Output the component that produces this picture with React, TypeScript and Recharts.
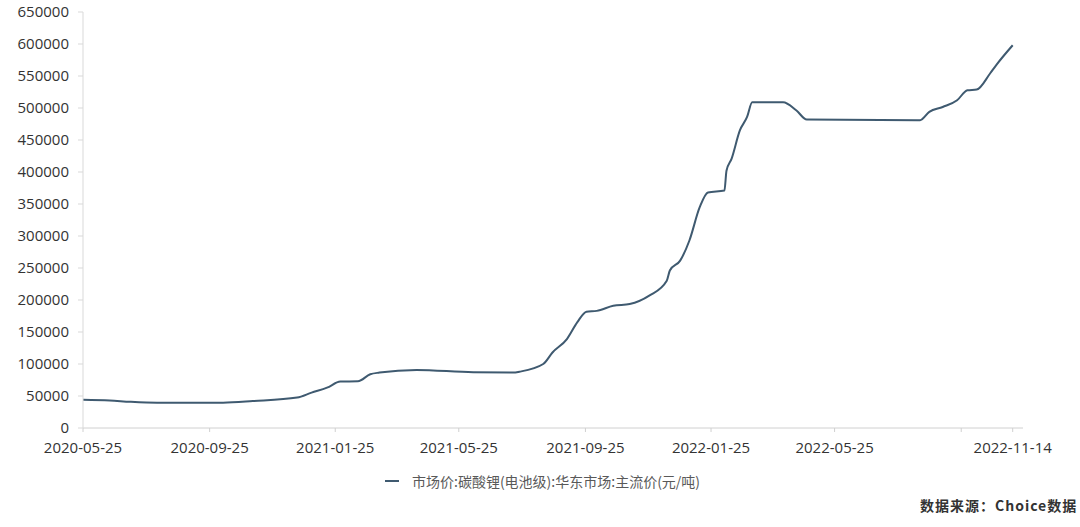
import React from "react";
import { LineChart, Line, XAxis, YAxis } from "recharts";

// 碳酸锂(电池级) 华东市场主流价
const dates = [
  "2020-05-25", "2020-06-20", "2020-07-10", "2020-08-05", "2020-10-08",
  "2020-11-06", "2020-12-19", "2021-01-02", "2021-01-17", "2021-01-30",
  "2021-02-16", "2021-02-28", "2021-03-09", "2021-04-14", "2021-06-08",
  "2021-07-17", "2021-07-23", "2021-08-15", "2021-08-24", "2021-09-07",
  "2021-09-17", "2021-09-26", "2021-10-06", "2021-10-22", "2021-11-07",
  "2021-11-26", "2021-12-13", "2021-12-16", "2021-12-26", "2022-01-04",
  "2022-01-14", "2022-01-22", "2022-02-07", "2022-02-09", "2022-02-14",
  "2022-02-22", "2022-03-01", "2022-03-06", "2022-04-05", "2022-04-18",
  "2022-04-28", "2022-08-16", "2022-08-25", "2022-09-07", "2022-09-21",
  "2022-10-01", "2022-10-10", "2022-10-23", "2022-10-29", "2022-11-14",
];
const prices = [
  44000, 43000, 41000, 39600, 39600,
  42000, 47500, 55300, 63000, 72500,
  73000, 84000, 86600, 90800, 87000,
  86600, 88000, 100000, 118000, 139000,
  165000, 181700, 183000, 191000, 193700,
  206700, 230000, 246000, 261500, 293000,
  345000, 368000, 371000, 402000, 421000,
  465000, 486000, 509000, 509000, 496000,
  482000, 481000, 494000, 501600, 512000,
  527800, 528800, 553900, 567000, 598000,
];

const tickDates = [
  "2020-05-25", "2020-09-25", "2021-01-25", "2021-05-25", "2021-09-25",
  "2022-01-25", "2022-05-25", "2022-09-25", "2022-11-14",
];
const hiddenTick = "2022-09-25";
const yTicks = [0, 50000, 100000, 150000, 200000, 250000, 300000, 350000, 400000, 450000, 500000, 550000, 600000, 650000];

const legendLabel = "市场价:碳酸锂(电池级):华东市场:主流价(元/吨)";
const sourceLabel = "数据来源：Choice数据";

const DAY = 86400000;
const toTs = (d: string) => Date.parse(d + "T00:00:00Z");
const fmt = (ts: number) => new Date(ts).toISOString().slice(0, 10);

const data = dates.map((d, i) => ({ t: toTs(d), v: prices[i] }));
const start = toTs(dates[0]);
const end = start + 913 * DAY;

const LINE = "#3f5a70";
const FONT = "'Open Sans', 'Noto Sans CJK SC', sans-serif";

const XTick = (props: any) => {
  const { x, y, payload } = props;
  const label = fmt(payload.value);
  if (label === hiddenTick) return null;
  return (
    <text x={x} y={y} dy="0.71em" textAnchor="middle" fill="#333" fontSize={15} fontFamily={FONT}>
      {label}
    </text>
  );
};

export default function App() {
  return (
    <div style={{ position: "absolute", left: 0, top: 0, width: 1080, height: 527, background: "#fff", fontFamily: FONT }}>
      <LineChart width={1080} height={460} data={data} margin={{ top: 12, right: 57, left: 0, bottom: 0 }}>
        <XAxis
          dataKey="t"
          type="number"
          scale="time"
          domain={[start, end]}
          ticks={tickDates.map(toTs)}
          tick={<XTick />}
          height={32}
          tickSize={4}
          tickMargin={10}
          stroke="#d0d0d0"
          interval={0}
          allowDataOverflow
        />
        <YAxis
          type="number"
          domain={[0, 650000]}
          ticks={yTicks}
          width={83}
          tickSize={5}
          tickMargin={9}
          stroke="#d9d9d9"
          interval={0}
          tick={{ fill: "#333", fontSize: 15, fontFamily: FONT }}
        />
        <Line
          type="monotone"
          dataKey="v"
          stroke={LINE}
          strokeWidth={2}
          dot={false}
          isAnimationActive={false}
        />
      </LineChart>
      <div style={{ position: "absolute", left: 385, top: 471, display: "flex", alignItems: "center", fontSize: 14, color: "#595959", fontFamily: "'Noto Sans CJK SC', sans-serif" }}>
        <span style={{ display: "inline-block", width: 14, height: 2, background: LINE, marginRight: 13 }} />
        <span>{legendLabel}</span>
      </div>
      <div style={{ position: "absolute", left: 920, top: 495, fontSize: 14, fontWeight: 700, color: "#333", letterSpacing: 1, fontFamily: "'Noto Sans CJK SC', sans-serif" }}>
        {sourceLabel}
      </div>
    </div>
  );
}
